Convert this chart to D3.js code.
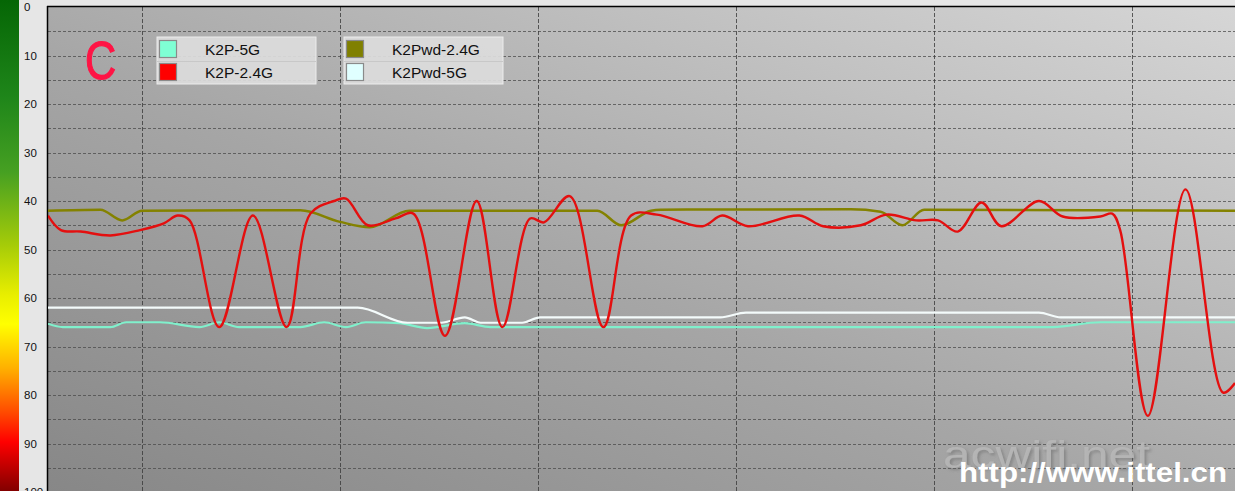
<!DOCTYPE html>
<html><head><meta charset="utf-8">
<script src="https://cdn.jsdelivr.net/npm/d3@7"></script>
<style>html,body{margin:0;padding:0;background:#e6e6e6;overflow:hidden}svg{display:block}</style>
</head><body>
<svg id="c" width="1235" height="491"></svg>
<script>
// ---- data ----
const legendNames = ["K2P-5G", "K2P-2.4G", "K2Pwd-2.4G", "K2Pwd-5G"];
const legendColors = ["#7fffd4", "#ff0000", "#808000", "#e0ffff"];
const yTickValues = [0, 10, 20, 30, 40, 50, 60, 70, 80, 90, 100];
const xGridValues = [5, 15, 25, 35, 45, 55];

const k2p24T = [0.25,0.9,1.9,3.4,4.9,6.1,6.8,7.4,8.9,10.6,12.3,13.5,14.7,15.3,16.4,17.8,18.7,20.3,21.9,23.2,24.6,25.3,26.6,28.3,29.7,31,33.3,34.3,35.6,38.2,39.4,41.3,42.6,44.1,45.2,46.2,47.4,48.4,50.3,51.5,53.4,54,54.4,55.8,57.7,59.6,60.2];
const k2p24V = [43,46,46.3,47.1,46,44.6,43,44,66,43,66,42.6,40,39.5,45,43.6,42.6,67.8,40,66,43.6,44.4,39,66,43,42.8,45.2,43,45.2,43,45.2,45,42.8,44,44,46.3,40.3,45.2,40,43.2,43.2,42.6,46,84.3,37.6,79.5,77.5];

const k2pwd24T = [0.25,2.9,4,5,13,15,16.5,18.5,28,29.2,30.7,31.2,40.8,42.3,43.4,44.5,60.2];
const k2pwd24V = [42,41.8,44,42,41.9,44.3,45.4,42,42,45,42,41.8,41.7,42.2,45,41.8,42];

const k2pwd5T = [0.25,15.9,18.4,20.1,21.3,22.1,24.2,25.1,34.2,35.5,50.3,51.4,60.2];
const k2pwd5V = [62,62,65.1,65.1,64,65.1,65.1,64,64,63,63,64,64];

const k2p5T = [0.25,1,3.4,4.2,5.9,7.9,8.9,9.9,13,14.2,15.3,16.3,18,19.4,21.3,22.6,51,53.4,60.2];
const k2p5V = [65.3,66,66,65,65,66,65,66,66,65,66,65,65.2,66.2,65.2,66,66,65,65];

// ---- layout ----
const svg = d3.select("#c");
const W = 1235, H = 491;
const plot = {x0: 48, x1: 1235, y0: 7, y1: 492};
const x = d3.scaleLinear().domain([0.25, 60.2]).range([plot.x0, plot.x1]);
const y = d3.scaleLinear().domain([0, 100]).range([plot.y0, plot.y1]);

const defs = svg.append("defs");
const cg = defs.append("linearGradient").attr("id", "colorbar").attr("x1", 0).attr("y1", 0).attr("x2", 0).attr("y2", 1);
[[0, "#056605"], [0.2, "#1f861a"], [0.35, "#46a022"], [0.5, "#a6cc08"], [0.6, "#e8ee00"], [0.66, "#ffff00"], [0.75, "#ffb000"], [0.84, "#ff4a00"], [0.9, "#ff0000"], [1, "#820000"]]
  .forEach(s => cg.append("stop").attr("offset", s[0]).attr("stop-color", s[1]));
const bg = defs.append("linearGradient").attr("id", "plotbg").attr("x1", 0).attr("y1", 1).attr("x2", 1).attr("y2", 0);
[[0, "#878787"], [0.45, "#a6a6a6"], [1, "#d6d6d6"]].forEach(s => bg.append("stop").attr("offset", s[0]).attr("stop-color", s[1]));
defs.append("clipPath").attr("id", "clip").append("rect")
  .attr("x", plot.x0).attr("y", plot.y0).attr("width", plot.x1 - plot.x0).attr("height", plot.y1 - plot.y0);
const sh = defs.append("filter").attr("id", "shadow").attr("x", "-10%").attr("y", "-20%").attr("width", "130%").attr("height", "150%");
sh.append("feDropShadow").attr("dx", 2).attr("dy", 2).attr("stdDeviation", 1.5).attr("flood-color", "#666").attr("flood-opacity", 0.6);

// panels
svg.append("rect").attr("x", 0).attr("y", 0).attr("width", W).attr("height", H).attr("fill", "#e6e6e6");
svg.append("rect").attr("x", 0).attr("y", 0).attr("width", 19).attr("height", H).attr("fill", "url(#colorbar)");
svg.append("rect").attr("x", plot.x0).attr("y", plot.y0).attr("width", plot.x1 - plot.x0).attr("height", plot.y1 - plot.y0).attr("fill", "url(#plotbg)");

// y labels
svg.append("g").selectAll("text").data(yTickValues).join("text")
  .attr("x", 24).attr("y", d => y(d)).attr("dy", "0.36em")
  .attr("font-family", "Liberation Sans, Arial, sans-serif").attr("font-size", 11.5).attr("fill", "#111")
  .text(d => d);

// grid
const grid = svg.append("g").attr("clip-path", "url(#clip)");
const hVals = d3.range(5, 100, 5);
grid.selectAll("line.h").data(hVals).join("line").attr("class", "h")
  .attr("x1", plot.x0).attr("x2", plot.x1).attr("y1", d => Math.round(y(d)) + 0.5).attr("y2", d => Math.round(y(d)) + 0.5)
  .attr("stroke", "#4a4a4a").attr("stroke-width", 1).attr("stroke-dasharray", "3,2").attr("opacity", 0.75);
grid.selectAll("line.v").data(xGridValues).join("line").attr("class", "v")
  .attr("x1", d => Math.round(x(d)) + 0.5).attr("x2", d => Math.round(x(d)) + 0.5).attr("y1", plot.y0).attr("y2", plot.y1)
  .attr("stroke", "#3a3a3a").attr("stroke-width", 1).attr("stroke-dasharray", "4,2").attr("opacity", 0.8);

// borders
svg.append("line").attr("x1", plot.x0 - 0.5).attr("x2", plot.x0 - 0.5).attr("y1", plot.y0 - 1).attr("y2", H).attr("stroke", "#000").attr("stroke-width", 1.5);
svg.append("line").attr("x1", plot.x0 - 1).attr("x2", plot.x1).attr("y1", plot.y0 - 0.5).attr("y2", plot.y0 - 0.5).attr("stroke", "#000").attr("stroke-width", 1.5);

// watermark
svg.append("text").attr("x", 943).attr("y", 468).attr("textLength", 207).attr("lengthAdjust", "spacingAndGlyphs")
  .attr("font-family", "Liberation Sans, Arial, sans-serif").attr("font-size", 38)
  .attr("fill", "#b9b9b9").attr("fill-opacity", 0.85).attr("filter", "url(#shadow)").text("acwifi.net");
svg.append("text").attr("x", 959).attr("y", 482).attr("textLength", 268).attr("lengthAdjust", "spacingAndGlyphs")
  .attr("font-family", "Liberation Sans, Arial, sans-serif").attr("font-weight", "bold").attr("font-size", 27)
  .attr("fill", "#ffffff").text("http://www.ittel.cn");

// lines
const lines = svg.append("g").attr("clip-path", "url(#clip)");
function draw(T, V, color, curve, w) {
  const pts = T.map((t, i) => [t, V[i]]);
  lines.append("path").datum(pts)
    .attr("d", d3.line().x(d => x(d[0])).y(d => y(d[1])).curve(curve))
    .attr("fill", "none").attr("stroke", color).attr("stroke-width", w).attr("stroke-linejoin", "round");
}
draw(k2p5T, k2p5V, "#80f0cc", d3.curveMonotoneX, 2.2);
draw(k2pwd5T, k2pwd5V, "#f4fbfb", d3.curveMonotoneX, 2.2);
draw(k2pwd24T, k2pwd24V, "#848200", d3.curveMonotoneX, 2.5);
draw(k2p24T, k2p24V, "#e40f0f", d3.curveCatmullRom.alpha(0.5), 2.4);

// "C" label
svg.append("text").attr("transform", "translate(85,79) scale(0.8,1)")
  .attr("font-family", "Liberation Sans, Arial, sans-serif").attr("font-size", 54)
  .attr("fill", "#ff1445").attr("stroke", "#ff1445").attr("stroke-width", 1.2).text("C");

// legend
const lg = svg.append("g");
const boxes = [{x: 157, items: [0, 1]}, {x: 344, items: [2, 3]}];
boxes.forEach(b => {
  const g = lg.append("g").attr("transform", `translate(${b.x},37)`);
  g.append("rect").attr("width", 159).attr("height", 47).attr("fill", "#dcdcdc").attr("fill-opacity", 0.92).attr("stroke", "#ececec");
  g.append("line").attr("x1", 0).attr("x2", 159).attr("y1", 24.5).attr("y2", 24.5).attr("stroke", "#c8c8c8");
  b.items.forEach((k, j) => {
    g.append("rect").attr("x", 2.5).attr("y", 3.5 + j * 23).attr("width", 17).attr("height", 17)
      .attr("fill", legendColors[k]).attr("stroke", "#8a8a8a").attr("stroke-width", 1.2);
    g.append("text").attr("x", 48).attr("y", 18 + j * 23)
      .attr("font-family", "Liberation Sans, Arial, sans-serif").attr("font-size", 15.5).attr("fill", "#111")
      .text(legendNames[k]);
  });
});
</script>
</body></html>
